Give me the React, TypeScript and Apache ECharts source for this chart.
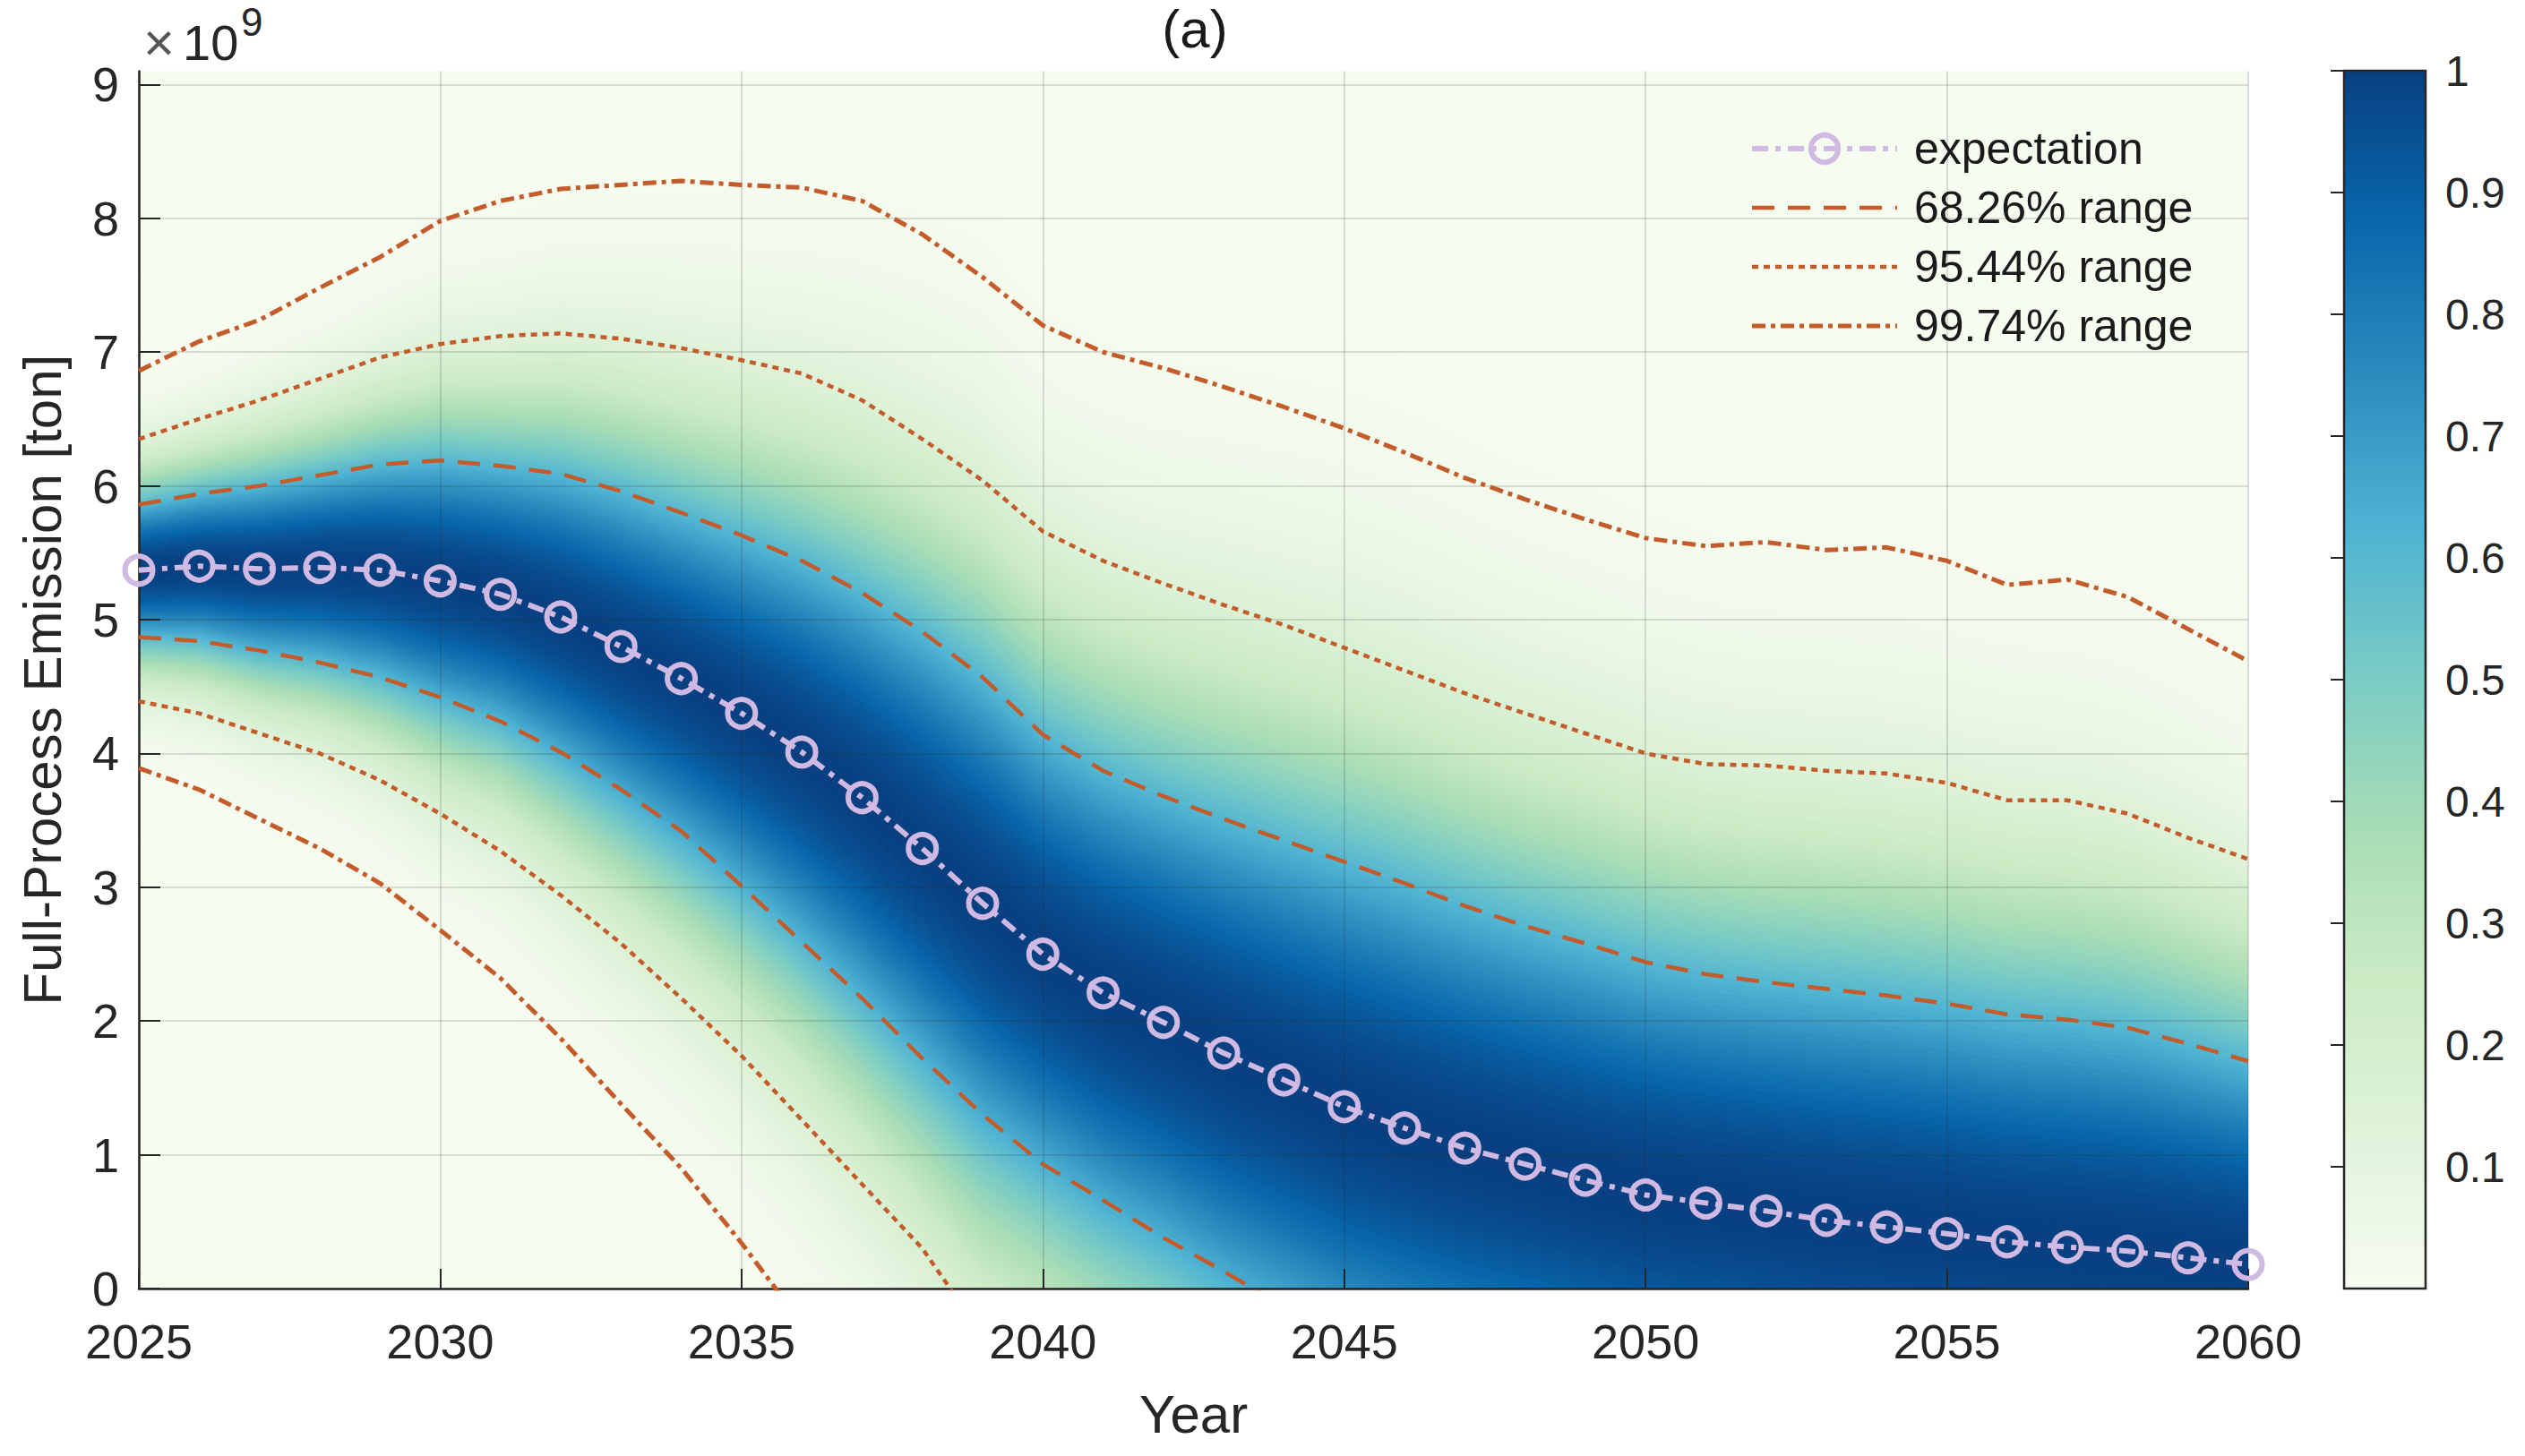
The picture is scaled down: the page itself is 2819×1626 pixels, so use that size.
import React, { useEffect, useRef } from "react";
import * as echarts from "echarts";

// ---------- data (values in units of 10^9 ton) ----------
const YEARS = [
  2025, 2026, 2027, 2028, 2029, 2030, 2031, 2032, 2033, 2034,
  2035, 2036, 2037, 2038, 2039, 2040, 2041, 2042, 2043, 2044,
  2045, 2046, 2047, 2048, 2049, 2050, 2051, 2052, 2053, 2054,
  2055, 2056, 2057, 2058, 2059, 2060,
];

const EXPECTATION = [
  5.37, 5.40, 5.38, 5.39, 5.37, 5.29, 5.19, 5.02, 4.80, 4.56,
  4.30, 4.01, 3.67, 3.29, 2.88, 2.50, 2.21, 1.99, 1.76, 1.56,
  1.36, 1.20, 1.05, 0.93, 0.81, 0.70, 0.64, 0.58, 0.51, 0.46,
  0.41, 0.35, 0.31, 0.28, 0.23, 0.18,
];

const UPPER_68 = [
  5.86, 5.94, 6.00, 6.08, 6.16, 6.19, 6.15, 6.09, 5.96, 5.80,
  5.63, 5.44, 5.20, 4.91, 4.57, 4.14, 3.87, 3.68, 3.51, 3.35,
  3.19, 3.03, 2.86, 2.71, 2.58, 2.44, 2.35, 2.29, 2.24, 2.19,
  2.13, 2.05, 2.01, 1.95, 1.83, 1.70,
];
const LOWER_68 = [
  4.87, 4.84, 4.77, 4.68, 4.57, 4.42, 4.24, 4.01, 3.73, 3.42,
  3.01, 2.59, 2.17, 1.72, 1.30, 0.93, 0.66, 0.38, 0.13, -0.14,
  null, null, null, null, null, null, null, null, null, null,
  null, null, null, null, null, null,
];

const UPPER_95 = [
  6.35, 6.50, 6.64, 6.80, 6.96, 7.06, 7.12, 7.14, 7.10, 7.03,
  6.94, 6.84, 6.64, 6.35, 6.04, 5.66, 5.44, 5.27, 5.11, 4.96,
  4.79, 4.62, 4.45, 4.30, 4.15, 4.00, 3.92, 3.91, 3.87, 3.85,
  3.78, 3.65, 3.65, 3.55, 3.37, 3.21,
];
const LOWER_95 = [
  4.39, 4.30, 4.15, 4.00, 3.80, 3.55, 3.27, 2.94, 2.58, 2.17,
  1.74, 1.26, 0.78, 0.30, -0.35, null, null, null, null, null,
  null, null, null, null, null, null, null, null, null, null,
  null, null, null, null, null, null,
];

const UPPER_99 = [
  6.86, 7.08, 7.24, 7.48, 7.71, 7.98, 8.13, 8.22, 8.25, 8.28,
  8.25, 8.23, 8.13, 7.88, 7.56, 7.20, 7.00, 6.88, 6.74, 6.59,
  6.43, 6.25, 6.06, 5.90, 5.75, 5.61, 5.55, 5.58, 5.52, 5.54,
  5.44, 5.26, 5.30, 5.17, 4.93, 4.69,
];
const LOWER_99 = [
  3.89, 3.73, 3.51, 3.29, 3.03, 2.68, 2.32, 1.87, 1.38, 0.90,
  0.34, -0.26, null, null, null, null, null, null, null, null,
  null, null, null, null, null, null, null, null, null, null,
  null, null, null, null, null, null,
];

const X_TICKS_INTERVAL = 5;
const Y_TICKS_INTERVAL = 1;
const COLORBAR_TICK_INTERVAL = 0.1;

const LEGEND_NAMES = ["expectation", "68.26% range", "95.44% range", "99.74% range"];

// GnBu colormap
const GNBU = [
  "#f7fcf0", "#e0f3db", "#ccebc5", "#a8ddb5", "#7bccc4",
  "#4eb3d3", "#2b8cbe", "#0868ac", "#084081",
];

// ---------- derived ----------
const SIGMA = UPPER_68.map((u, i) => u - EXPECTATION[i]);

// standardized-deviation bands of the per-year normal density (peak-normalised)
const Z_STEP = 0.025;
const Z_MAX = 4.5;
const Z_EDGES: number[] = [-60];
for (let k = -Math.round(Z_MAX / Z_STEP); k <= Math.round(Z_MAX / Z_STEP); k++) Z_EDGES.push(k * Z_STEP);
Z_EDGES.push(60);
const BANDS = Z_EDGES.slice(0, -1).map((zLo, i) => {
  const zHi = Z_EDGES[i + 1];
  const zMid = Math.abs(zLo) > 10 || Math.abs(zHi) > 10 ? 10 : (zLo + zHi) / 2;
  return [zLo, zHi, Math.exp(-0.5 * zMid * zMid)];
});

const FONT = "'Liberation Sans', Arial, Helvetica, sans-serif";
const TEXT = "#262626";
const ORANGE = "#c45b2a";
const LAVENDER = "#d0b9e2";

const DASH_68 = [25, 15];
const DASH_95 = [7, 6];
const DASH_99 = [15, 6, 5, 6];
const DASH_EXP = [18, 8, 6, 8];

const zip = (arr: (number | null)[]) => YEARS.map((y, i) => [y, arr[i]]);

function rangeSeries(name: string, data: (number | null)[], dash: number[], width: number) {
  return {
    type: "line",
    name,
    data: zip(data),
    symbol: "none",
    smooth: false,
    clip: true,
    connectNulls: false,
    z: 4,
    lineStyle: { color: ORANGE, width, type: dash },
    itemStyle: { color: ORANGE },
    emphasis: { disabled: true },
  };
}

export default function App() {
  const ref = useRef<HTMLDivElement>(null);

  useEffect(() => {
    if (!ref.current) return;
    const chart = echarts.init(ref.current, undefined, { renderer: "svg" });

    const gradStops = GNBU.map((c, i) => ({ offset: 1 - i / (GNBU.length - 1), color: c })).reverse();

    const hiddenSymbol = { opacity: 0, borderWidth: 0 };

    const option: any = {
      animation: false,
      backgroundColor: "#ffffff",
      textStyle: { fontFamily: FONT },
      grid: [
        { left: 155, top: 79.5, width: 2355, height: 1359.5, containLabel: false },
        { left: 2617, top: 79, width: 91, height: 1360, containLabel: false },
      ],
      visualMap: [
        {
          type: "continuous",
          show: false,
          min: 0,
          max: 1,
          dimension: 2,
          seriesIndex: 0,
          inRange: { color: GNBU },
        },
      ],
      legend: {
        orient: "vertical",
        left: 1948,
        top: 136,
        itemWidth: 162,
        itemHeight: 38,
        itemGap: 16,
        data: [
          {
            name: LEGEND_NAMES[0],
            itemStyle: { color: "rgba(0,0,0,0)", borderColor: LAVENDER, borderWidth: 6 },
            lineStyle: { color: LAVENDER, width: 6, type: DASH_EXP },
          },
          { name: LEGEND_NAMES[1], itemStyle: hiddenSymbol, lineStyle: { color: ORANGE, width: 4.5, type: DASH_68 } },
          { name: LEGEND_NAMES[2], itemStyle: hiddenSymbol, lineStyle: { color: ORANGE, width: 4.5, type: DASH_95 } },
          { name: LEGEND_NAMES[3], itemStyle: hiddenSymbol, lineStyle: { color: ORANGE, width: 5, type: DASH_99 } },
        ],
        textStyle: { fontSize: 50, color: "#1a1a1a", fontFamily: FONT, padding: [0, 0, 0, 14] },
        selectedMode: false,
      },
      xAxis: [
        {
          type: "value",
          gridIndex: 0,
          min: 2025,
          max: 2060,
          interval: X_TICKS_INTERVAL,
          name: "Year",
          nameLocation: "middle",
          nameGap: 110,
          nameTextStyle: { fontSize: 60, color: TEXT, fontFamily: FONT },
          axisLine: { show: true, onZero: false, lineStyle: { color: TEXT, width: 2.5 } },
          axisTick: { show: true, inside: true, length: 22, lineStyle: { color: TEXT, width: 2 } },
          axisLabel: {
            fontSize: 54,
            color: TEXT,
            margin: 32,
            fontFamily: FONT,
            formatter: (v: number) => String(v),
          },
          splitLine: { show: true, lineStyle: { color: "rgba(38,38,38,0.15)", width: 2 } },
          z: 3,
        },
        { type: "value", gridIndex: 1, min: 0, max: 1, show: false },
      ],
      yAxis: [
        {
          type: "value",
          gridIndex: 0,
          min: 0,
          max: 9.1,
          interval: Y_TICKS_INTERVAL,
          name: "Full-Process Emission [ton]",
          nameLocation: "middle",
          nameRotate: 90,
          nameGap: 78,
          nameTextStyle: { fontSize: 60, color: TEXT, fontFamily: FONT },
          axisLine: { show: true, onZero: false, lineStyle: { color: TEXT, width: 2.5 } },
          axisTick: { show: true, inside: true, length: 24, lineStyle: { color: TEXT, width: 2 } },
          axisLabel: {
            fontSize: 54,
            color: TEXT,
            margin: 22,
            fontFamily: FONT,
            showMaxLabel: false,
            formatter: (v: number) => String(v),
          },
          splitLine: {
            show: true,
            showMaxLine: false,
            lineStyle: { color: "rgba(38,38,38,0.15)", width: 2 },
          },
          z: 3,
        },
        {
          type: "value",
          gridIndex: 1,
          position: "right",
          min: 0,
          max: 1,
          interval: COLORBAR_TICK_INTERVAL,
          axisLine: { show: false },
          axisTick: { show: true, inside: true, length: 15, lineStyle: { color: TEXT, width: 2 } },
          axisLabel: {
            fontSize: 48,
            color: TEXT,
            margin: 22,
            fontFamily: FONT,
            showMinLabel: false,
            formatter: (v: number) => (v === 1 ? "1" : v.toFixed(1)),
          },
          splitLine: { show: false },
          z: 3,
        },
      ],
      series: [
        {
          type: "custom",
          name: "density",
          xAxisIndex: 0,
          yAxisIndex: 0,
          clip: true,
          z: -1,
          silent: true,
          data: BANDS,
          renderItem: (params: any, api: any) => {
            const zLo = api.value(0);
            const zHi = api.value(1);
            const pts: number[][] = [];
            for (let i = 0; i < YEARS.length; i++) {
              pts.push(api.coord([YEARS[i], EXPECTATION[i] + zHi * SIGMA[i]]));
            }
            for (let i = YEARS.length - 1; i >= 0; i--) {
              pts.push(api.coord([YEARS[i], EXPECTATION[i] + zLo * SIGMA[i]]));
            }
            const color = api.visual("color");
            return {
              type: "polygon",
              shape: { points: pts },
              style: { fill: color, stroke: color, lineWidth: 1 },
            };
          },
        },
        rangeSeries(LEGEND_NAMES[1], UPPER_68, DASH_68, 4.5),
        rangeSeries(LEGEND_NAMES[1], LOWER_68, DASH_68, 4.5),
        rangeSeries(LEGEND_NAMES[2], UPPER_95, DASH_95, 4.5),
        rangeSeries(LEGEND_NAMES[2], LOWER_95, DASH_95, 4.5),
        rangeSeries(LEGEND_NAMES[3], UPPER_99, DASH_99, 5),
        rangeSeries(LEGEND_NAMES[3], LOWER_99, DASH_99, 5),
        {
          type: "line",
          name: LEGEND_NAMES[0],
          data: zip(EXPECTATION),
          symbol: "circle",
          symbolSize: 31,
          clip: false,
          z: 6,
          lineStyle: { color: LAVENDER, width: 6, type: DASH_EXP },
          itemStyle: { color: "rgba(0,0,0,0)", borderColor: LAVENDER, borderWidth: 6 },
          emphasis: { disabled: true },
        },
        {
          type: "custom",
          name: "colorbar",
          xAxisIndex: 1,
          yAxisIndex: 1,
          z: -1,
          silent: true,
          data: [[0, 1]],
          renderItem: (params: any, api: any) => {
            const tl = api.coord([0, 1]);
            const br = api.coord([1, 0]);
            return {
              type: "rect",
              shape: { x: tl[0], y: tl[1], width: br[0] - tl[0], height: br[1] - tl[1] },
              style: {
                fill: new echarts.graphic.LinearGradient(0, 0, 0, 1, gradStops),
                stroke: TEXT,
                lineWidth: 2.5,
              },
            };
          },
        },
      ],
      graphic: [
        {
          type: "text",
          x: 1334,
          y: 32,
          style: { text: "(a)", font: `60px ${FONT}`, fill: "#1a1a1a", align: "center", verticalAlign: "middle" },
        },
        {
          type: "text",
          x: 160,
          y: 77,
          style: { text: "×", font: `60px ${FONT}`, fill: "#555555", align: "left", verticalAlign: "bottom" },
        },
        {
          type: "text",
          x: 204,
          y: 75.4,
          style: { text: "10", font: `56px ${FONT}`, fill: TEXT, align: "left", verticalAlign: "bottom" },
        },
        {
          type: "text",
          x: 269,
          y: 46.6,
          style: { text: "9", font: `44px ${FONT}`, fill: TEXT, align: "left", verticalAlign: "bottom" },
        },
      ],
    };

    chart.setOption(option);
    return () => chart.dispose();
  }, []);

  return (
    <div
      ref={ref}
      style={{ position: "fixed", left: 0, top: 0, width: 2819, height: 1626, background: "#ffffff" }}
    />
  );
}
